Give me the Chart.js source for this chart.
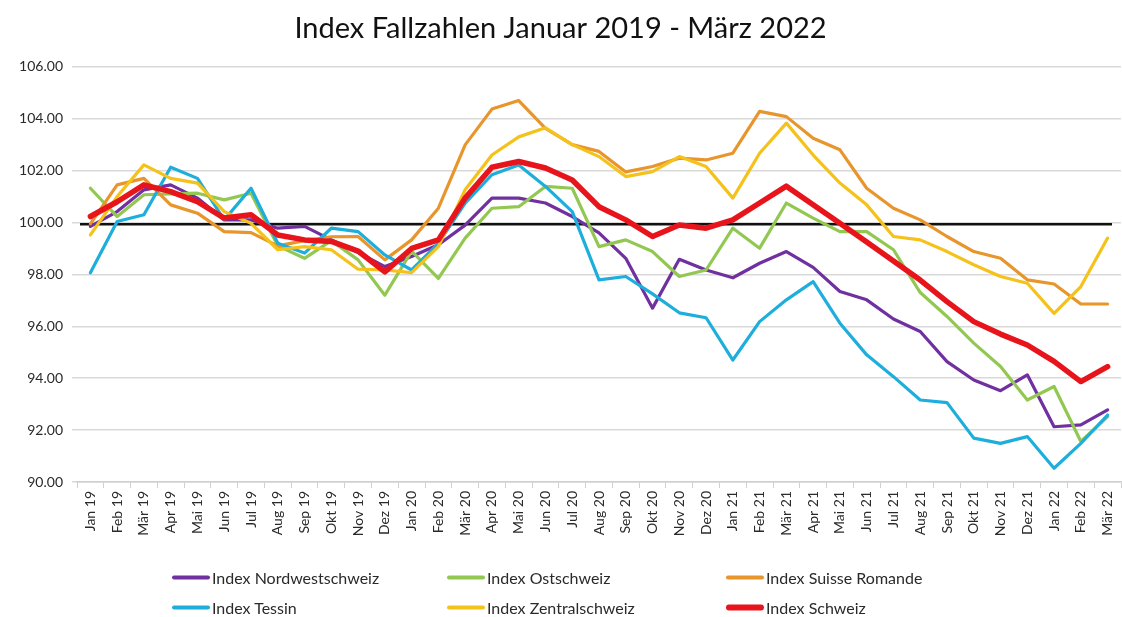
<!DOCTYPE html>
<html><head><meta charset="utf-8">
<script src="https://cdn.jsdelivr.net/npm/chart.js@4.4.1/dist/chart.umd.min.js"></script>
<style>
html,body{margin:0;padding:0;background:#fff;}
#wrap{position:relative;width:1122px;height:617px;overflow:hidden;}
#legend{position:absolute;left:0;top:0;width:1122px;height:617px;pointer-events:none;font-family:Lato,sans-serif;}
.item{position:absolute;display:flex;align-items:center;font-size:16px;color:#2a2a2a;white-space:nowrap;transform:translateY(-50%);}
.sw{display:inline-block;width:38px;border-radius:3px;margin-right:2px;}
</style></head>
<body><div id="wrap"><canvas id="c" width="1122" height="617"></canvas><div id="legend"></div></div>
<script>
const categories = ["Jan 19","Feb 19","Mär 19","Apr 19","Mai 19","Jun 19","Jul 19","Aug 19","Sep 19","Okt 19","Nov 19","Dez 19",
  "Jan 20","Feb 20","Mär 20","Apr 20","Mai 20","Jun 20","Jul 20","Aug 20","Sep 20","Okt 20","Nov 20","Dez 20",
  "Jan 21","Feb 21","Mär 21","Apr 21","Mai 21","Jun 21","Jul 21","Aug 21","Sep 21","Okt 21","Nov 21","Dez 21",
  "Jan 22","Feb 22","Mär 22"];

const nordwestschweiz = [99.85,100.42,101.26,101.45,100.94,100.1,100.1,99.78,99.85,99.33,98.85,98.3,
  98.69,99.14,99.9,100.94,100.94,100.75,100.23,99.6,98.62,96.7,98.58,98.17,
  97.87,98.43,98.88,98.27,97.34,97.02,96.28,95.8,94.64,93.93,93.52,94.13,
  92.13,92.2,92.78];
const ostschweiz = [101.32,100.23,101.07,101.1,101.13,100.87,101.13,99.1,98.62,99.3,98.56,97.2,
  98.9,97.85,99.4,100.55,100.61,101.39,101.32,99.07,99.33,98.88,97.92,98.17,
  99.78,99.01,100.75,100.17,99.65,99.65,98.95,97.3,96.38,95.35,94.45,93.16,
  93.68,91.56,92.52];
const suisseRomande = [99.95,101.45,101.7,100.68,100.36,99.65,99.61,99.1,99.3,99.45,99.46,98.56,
  99.33,100.55,102.99,104.37,104.7,103.63,103.0,102.74,101.95,102.16,102.48,102.41,
  102.67,104.28,104.08,103.25,102.8,101.32,100.55,100.1,99.46,98.88,98.62,97.79,
  97.63,96.86,96.86];
const tessin = [98.06,100.04,100.3,102.13,101.7,100.1,101.32,99.2,98.82,99.78,99.65,98.75,
  98.17,99.2,100.75,101.84,102.22,101.39,100.42,97.79,97.92,97.25,96.52,96.33,
  94.7,96.18,97.02,97.72,96.12,94.9,94.06,93.16,93.06,91.69,91.49,91.75,
  90.53,91.49,92.58];
const zentralschweiz = [99.52,101.0,102.22,101.7,101.52,100.42,99.97,98.95,99.07,98.95,98.2,98.17,
  98.07,99.07,101.26,102.6,103.3,103.65,103.0,102.54,101.77,101.96,102.54,102.16,
  100.94,102.67,103.83,102.6,101.52,100.68,99.46,99.33,98.88,98.37,97.92,97.66,
  96.5,97.53,99.4];
const schweiz = [100.23,100.8,101.45,101.19,100.8,100.17,100.3,99.52,99.33,99.27,98.9,98.1,
  99.0,99.33,100.94,102.13,102.35,102.1,101.64,100.61,100.1,99.46,99.9,99.78,
  100.1,100.75,101.4,100.68,99.97,99.25,98.52,97.78,96.95,96.18,95.7,95.28,
  94.65,93.87,94.45];

const seriesNames = ["Index Nordwestschweiz","Index Ostschweiz","Index Suisse Romande","Index Tessin","Index Zentralschweiz","Index Schweiz"];
const seriesValues = [nordwestschweiz, ostschweiz, suisseRomande, tessin, zentralschweiz, schweiz];
const seriesColors = ["#7030A0","#92C852","#E8952C","#1EAEDC","#F5C21B","#E8141B"];
const seriesWidths = [3.2,3.2,3.2,3.2,3.2,5.5];
const BASELINE = 99.93;
const Y_MIN = 90, Y_MAX = 106, Y_STEP = 2;

const FONT = "Lato, 'Open Sans', sans-serif";

const baselinePlugin = {
  id: 'baseline',
  beforeDatasetsDraw(chart) {
    const {ctx, chartArea, scales} = chart;
    const y = scales.y.getPixelForValue(BASELINE);
    ctx.save();
    ctx.strokeStyle = '#111';
    ctx.lineWidth = 2.5;
    ctx.beginPath();
    ctx.moveTo(chartArea.left + 3, y);
    ctx.lineTo(chartArea.right - 9, y);
    ctx.stroke();
    ctx.restore();
  }
};

const datasets = seriesNames.map((name, i) => ({
  label: name,
  data: seriesValues[i],
  borderColor: seriesColors[i],
  backgroundColor: seriesColors[i],
  borderWidth: seriesWidths[i],
  pointRadius: 0,
  tension: 0,
  fill: false,
  borderJoinStyle: 'round',
  borderCapStyle: 'round',
  order: seriesNames.length - 1 - i
}));

new Chart(document.getElementById('c'), {
  type: 'line',
  data: { labels: categories, datasets },
  options: {
    responsive: false,
    animation: false,
    layout: { padding: { left: 0, right: 1, top: 0, bottom: 0 } },
    plugins: {
      legend: { display: false },
      tooltip: { enabled: false },
      title: {
        display: true,
        text: 'Index Fallzahlen Januar 2019 - März 2022',
        color: '#111',
        font: { family: FONT, size: 29, weight: 'normal' },
        padding: { top: 11, bottom: 21 }
      }
    },
    scales: {
      x: {
        offset: true,
        grid: { display: true, drawOnChartArea: false, drawTicks: true, tickLength: 6, color: '#d0d0d0', offset: true },
        border: { display: true, color: '#d0d0d0', width: 1.5 },
        ticks: { autoSkip: false, maxRotation: 90, minRotation: 90, color: '#2a2a2a', padding: 3, font: { family: FONT, size: 14 } },
        afterFit(s) { s.height = 135; s.paddingLeft = 0; s.paddingRight = 0; }
      },
      y: {
        min: Y_MIN, max: Y_MAX,
        grid: { color: '#d9d9d9', lineWidth: 1.5, drawTicks: true, tickLength: 5 },
        border: { display: false },
        ticks: { stepSize: Y_STEP, color: '#2a2a2a', padding: 9, font: { family: FONT, size: 14 },
          callback: v => Number(v).toFixed(2) },
        afterFit(s) { s.width = 77; }
      }
    }
  },
  plugins: [baselinePlugin]
});

// legend (grid layout, 3 columns x 2 rows)
const legendPos = [[172,577],[447,577],[726,577],[172,607],[447,607],[726,607]];
const lg = document.getElementById('legend');
seriesNames.forEach((n, i) => {
  const d = document.createElement('div');
  d.className = 'item';
  d.style.left = legendPos[i][0] + 'px';
  d.style.top = legendPos[i][1] + 'px';
  const sw = document.createElement('span');
  sw.className = 'sw';
  sw.style.background = seriesColors[i];
  sw.style.height = (i === 5 ? 6 : 4) + 'px';
  d.appendChild(sw);
  d.appendChild(document.createTextNode(n));
  lg.appendChild(d);
});
</script>
</body></html>
